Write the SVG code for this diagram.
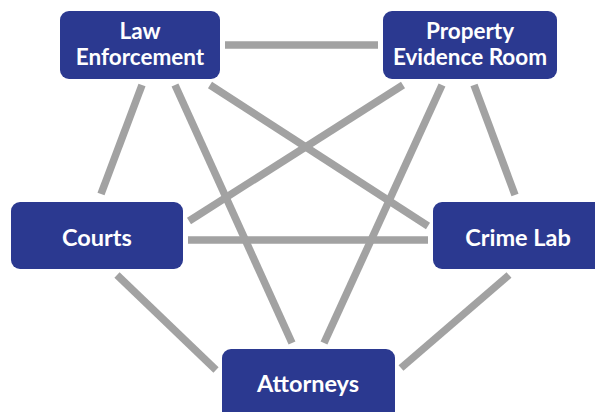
<svg xmlns="http://www.w3.org/2000/svg" width="595" height="412" viewBox="0 0 595 412">
<style>
.node rect{fill:#2b3990;}
.node text{fill:#ffffff;font-family:Lato,"Open Sans","Liberation Sans",sans-serif;font-weight:700;font-size:23.5px;text-anchor:middle;}
.node text.two{font-size:22.5px;}
.edges line{stroke:#a2a2a2;stroke-width:7.5;stroke-linecap:butt;}
</style>
<rect x="0" y="0" width="595" height="412" fill="#ffffff"/>
<g class="edges" id="connectors">
<line x1="225" y1="45" x2="378" y2="45"/>
<line x1="142" y1="85" x2="101" y2="194"/>
<line x1="175" y1="85" x2="292" y2="343"/>
<line x1="210" y1="85" x2="428" y2="226"/>
<line x1="403" y1="85" x2="189" y2="221"/>
<line x1="442" y1="85" x2="324" y2="343"/>
<line x1="474" y1="85" x2="515" y2="195"/>
<line x1="188" y1="240" x2="428" y2="240"/>
<line x1="117" y1="275" x2="216" y2="370"/>
<line x1="509" y1="275" x2="401" y2="368"/>
</g>
<g class="node" id="law-enforcement">
<rect x="60" y="11" width="160" height="68" rx="9"/>
<text class="two" x="140" y="39">Law</text>
<text class="two" x="140" y="64.5">Enforcement</text>
</g>
<g class="node" id="property-evidence-room">
<rect x="383" y="11" width="174" height="68" rx="9"/>
<text class="two" x="470" y="39">Property</text>
<text class="two" x="470" y="64.5">Evidence Room</text>
</g>
<g class="node" id="courts">
<rect x="11" y="202" width="172" height="67" rx="9"/>
<text x="97" y="246">Courts</text>
</g>
<g class="node" id="crime-lab">
<rect x="433" y="202" width="172" height="67" rx="9"/>
<text x="518" y="246">Crime Lab</text>
</g>
<g class="node" id="attorneys">
<rect x="222" y="349" width="173" height="72" rx="9"/>
<text x="308" y="392">Attorneys</text>
</g>
</svg>
